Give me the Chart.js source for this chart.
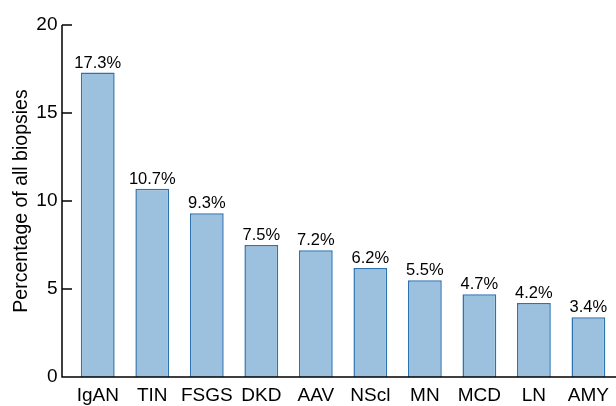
<!DOCTYPE html>
<html>
<head>
<meta charset="utf-8">
<script src="https://cdn.jsdelivr.net/npm/chart.js@4"></script>
<style>
  html, body { margin: 0; padding: 0; background: #fff; }
  #wrap { width: 616px; height: 406px; }
</style>
</head>
<body>
<div id="wrap"><canvas id="biopsyChart"></canvas></div>
<script>
// biopsy diagnoses and their share of all biopsies (%)
const diagnoses = ['IgAN', 'TIN', 'FSGS', 'DKD', 'AAV', 'NScl', 'MN', 'MCD', 'LN', 'AMY'];
const percentages = [17.3, 10.7, 9.3, 7.5, 7.2, 6.2, 5.5, 4.7, 4.2, 3.4];
const yTicks = [0, 5, 10, 15, 20];

const FONT = 'Liberation Sans, Arial, Helvetica, sans-serif';

// draw axis lines, inward tick marks and value labels above bars
const decorPlugin = {
    id: 'decor',
    afterDraw(chart) {
        const ctx = chart.ctx;
        const area = chart.chartArea;
        const y = chart.scales.y;
        const axisX = 62;
        ctx.save();
        ctx.strokeStyle = '#000';
        ctx.lineWidth = 1.5;
        // axis lines
        ctx.beginPath();
        ctx.moveTo(axisX, y.getPixelForValue(20));
        ctx.lineTo(axisX, area.bottom);
        ctx.lineTo(chart.width, area.bottom);
        ctx.stroke();
        // inward ticks
        yTicks.slice(1).forEach(v => {
            const py = y.getPixelForValue(v);
            ctx.beginPath();
            ctx.moveTo(axisX, py);
            ctx.lineTo(axisX + 10, py);
            ctx.stroke();
        });
        // value labels
        ctx.fillStyle = '#000';
        ctx.font = '16.5px ' + FONT;
        ctx.textAlign = 'center';
        ctx.textBaseline = 'alphabetic';
        chart.getDatasetMeta(0).data.forEach((bar, i) => {
            ctx.fillText(percentages[i].toFixed(1) + '%', bar.x, bar.y - 5);
        });
        ctx.restore();
    }
};

new Chart(document.getElementById('biopsyChart').getContext('2d'), {
    type: 'bar',
    data: {
        labels: diagnoses,
        datasets: [{
            data: percentages,
            backgroundColor: '#9bc1de',
            borderColor: '#2f72b0',
            borderWidth: 1.5,
            barPercentage: 0.62,
            categoryPercentage: 1.0,
        }]
    },
    options: {
        responsive: true,
        maintainAspectRatio: false,
        animation: false,
        layout: { padding: { top: 25, right: -5.5, bottom: 0, left: 0 } },
        plugins: {
            legend: { display: false },
            tooltip: { enabled: false }
        },
        scales: {
            x: {
                grid: { display: false, drawTicks: false },
                border: { display: false },
                ticks: {
                    color: '#000', font: { family: FONT, size: 19 }, padding: 7,
                    maxRotation: 0, autoSkip: false
                },
                afterFit: s => { s.height = 29; }
            },
            y: {
                min: 0,
                max: 20,
                grid: { display: false, drawTicks: false },
                border: { display: false },
                afterBuildTicks: s => { s.ticks = yTicks.map(v => ({ value: v })); },
                ticks: { color: '#000', font: { family: FONT, size: 19 }, padding: 13 },
                title: {
                    display: true,
                    text: 'Percentage of all biopsies',
                    color: '#000',
                    font: { family: FONT, size: 19.5 },
                    padding: { top: 10, bottom: 0 }
                },
                afterFit: s => { s.width = 70.5; }
            }
        }
    },
    plugins: [decorPlugin]
});
</script>
</body>
</html>
